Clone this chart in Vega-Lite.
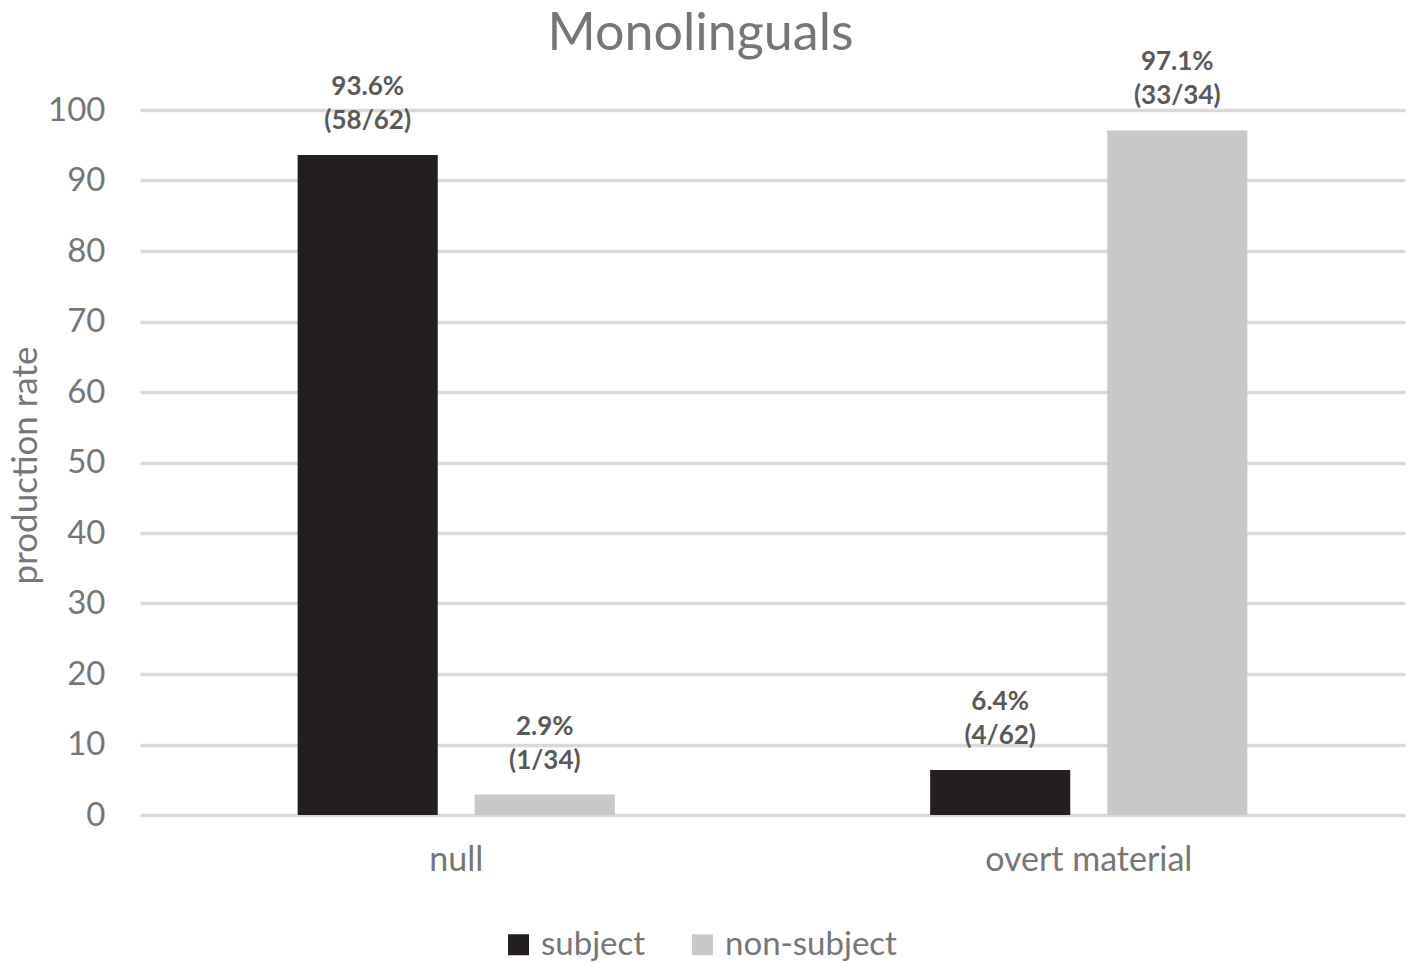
{
  "$schema": "https://vega.github.io/schema/vega-lite/v6.json",
  "autosize": "none",
  "padding": {"left": 140, "top": 110, "right": 3, "bottom": 147},
  "width": 1265,
  "height": 705,
  "background": "white",
  "title": {
    "text": "Monolinguals",
    "fontSize": 52,
    "font": "Lato",
    "fontWeight": "normal",
    "color": "#767676",
    "anchor": "middle",
    "frame": "group",
    "dx": -72,
    "dy": 38,
    "offset": 26
  },
  "data": {
    "values": [
      {"type": "null", "role": "subject", "rate": 93.6, "label": "93.6%|(58/62)"},
      {"type": "null", "role": "non-subject", "rate": 2.9, "label": "2.9%|(1/34)"},
      {"type": "overt material", "role": "subject", "rate": 6.4, "label": "6.4%|(4/62)"},
      {"type": "overt material", "role": "non-subject", "rate": 97.1, "label": "97.1%|(33/34)"}
    ]
  },
  "encoding": {
    "x": {
      "field": "type",
      "type": "nominal",
      "sort": ["null", "overt material"],
      "scale": {"paddingInner": 0, "paddingOuter": 0},
      "axis": {
        "title": null,
        "domain": false,
        "ticks": false,
        "labelAngle": 0,
        "labelLimit": 0,
        "labelFontSize": 34,
        "labelFont": "Lato",
        "labelColor": "#767676",
        "labelPadding": 28
      }
    },
    "xOffset": {
      "field": "role",
      "type": "nominal",
      "sort": ["subject", "non-subject"],
      "scale": {"paddingInner": 0.209, "paddingOuter": 0.89}
    },
    "y": {
      "field": "rate",
      "type": "quantitative",
      "scale": {"domain": [0, 100], "nice": false},
      "axis": {
        "title": "production rate",
        "titleFontSize": 35,
        "titleFont": "Lato",
        "titleFontWeight": "normal",
        "titleColor": "#767676",
        "titleAngle": 270,
        "titleX": -115,
        "titleY": 355,
        "titleAlign": "center",
        "titleBaseline": "middle",
        "values": [0, 10, 20, 30, 40, 50, 60, 70, 80, 90, 100],
        "domain": false,
        "ticks": false,
        "labelFontSize": 33,
        "labelFont": "Lato",
        "labelColor": "#767676",
        "labelPadding": 35,
        "gridColor": "#d9d9d9",
        "gridWidth": 3.5
      }
    }
  },
  "layer": [
    {
      "mark": {"type": "bar"},
      "encoding": {
        "color": {
          "field": "role",
          "type": "nominal",
          "scale": {"domain": ["subject", "non-subject"], "range": ["#231f20", "#c7c8c9"]},
          "legend": {
            "title": null,
            "orient": "none",
            "direction": "horizontal",
            "legendX": 362,
            "legendY": 818,
            "padding": 0,
            "symbolType": "square",
            "symbolSize": 440,
            "symbolStrokeWidth": 0,
            "labelFontSize": 33,
            "labelLimit": 0,
            "labelFont": "Lato",
            "labelColor": "#767676",
            "labelOffset": 6,
            "columnPadding": 40
          }
        }
      }
    },
    {
      "mark": {
        "type": "text",
        "baseline": "alphabetic",
        "dy": -60,
        "lineBreak": "|",
        "lineHeight": 34,
        "fontSize": 26,
        "font": "Lato",
        "fontWeight": "bold",
        "color": "#595959"
      },
      "encoding": {"text": {"field": "label"}}
    }
  ],
  "config": {"view": {"stroke": null}}
}
